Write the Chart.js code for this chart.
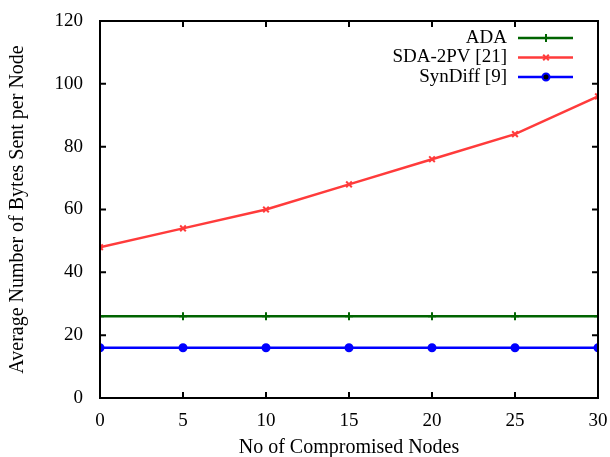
<!DOCTYPE html>
<html>
<head>
<meta charset="utf-8">
<script src="https://cdn.jsdelivr.net/npm/chart.js@4/dist/chart.umd.min.js"></script>
<style>
  html, body { margin: 0; padding: 0; background: #fff; }
  #wrap { width: 610px; height: 457px; }
</style>
</head>
<body>
<div id="wrap"><canvas id="chart" width="610" height="457"></canvas></div>
<script>
// Data
const nodes = [0, 5, 10, 15, 20, 25, 30];
const adaBytes = [26, 26, 26, 26, 26, 26, 26];
const sdaBytes = [48, 54, 60, 68, 76, 84, 96];
const synDiffBytes = [16, 16, 16, 16, 16, 16, 16];
const seriesNames = ["ADA", "SDA-2PV [21]", "SynDiff [9]"];
const seriesColors = ["#006400", "#ff3b3b", "#0000ff"];
const seriesMarkers = ["cross", "crossRot", "circle"];

function toPoints(ys) {
  return nodes.map((x, i) => ({ x: x, y: ys[i] }));
}

const font = "Liberation Serif";

// frame with inward ticks on all four sides + legend top right
const framePlugin = {
  id: "frame",
  afterDatasetsDraw(chart) {
    const ctx = chart.ctx;
    const a = chart.chartArea;
    const xs = chart.scales.x;
    const ys = chart.scales.y;
    ctx.save();
    ctx.strokeStyle = "#000";
    ctx.lineWidth = 2;
    ctx.strokeRect(a.left, a.top, a.right - a.left, a.bottom - a.top);
    const t = 6;
    xs.ticks.forEach((tk) => {
      const px = xs.getPixelForValue(tk.value);
      ctx.beginPath();
      ctx.moveTo(px, a.bottom);
      ctx.lineTo(px, a.bottom - t);
      ctx.moveTo(px, a.top);
      ctx.lineTo(px, a.top + t);
      ctx.stroke();
    });
    ys.ticks.forEach((tk) => {
      const py = ys.getPixelForValue(tk.value);
      ctx.beginPath();
      ctx.moveTo(a.left, py);
      ctx.lineTo(a.left + t, py);
      ctx.moveTo(a.right, py);
      ctx.lineTo(a.right - t, py);
      ctx.stroke();
    });

    // legend
    ctx.font = "19px '" + font + "'";
    ctx.textAlign = "right";
    ctx.textBaseline = "middle";
    seriesNames.forEach((name, i) => {
      const y = a.top + 17 + i * 19.5;
      ctx.fillStyle = "#000";
      ctx.fillText(name, a.right - 91, y);
      ctx.strokeStyle = seriesColors[i];
      ctx.lineWidth = 2.5;
      ctx.beginPath();
      ctx.moveTo(a.right - 80, y);
      ctx.lineTo(a.right - 25, y);
      ctx.stroke();
      const ds = chart.data.datasets[i];
      ctx.lineWidth = 2;
      Chart.helpers.drawPoint(ctx, {
        pointStyle: ds.pointStyle,
        radius: ds.pointRadius,
        borderWidth: 2
      }, a.right - 52, y);
    });
    ctx.restore();
  }
};

const datasets = [adaBytes, sdaBytes, synDiffBytes].map((ys, i) => ({
  label: seriesNames[i],
  data: toPoints(ys),
  borderColor: seriesColors[i],
  backgroundColor: seriesColors[i],
  borderWidth: 2.5,
  pointStyle: seriesMarkers[i],
  pointRadius: i === 2 ? 3.5 : 4,
  pointBorderWidth: 2,
  tension: 0
}));

new Chart(document.getElementById("chart"), {
  type: "line",
  data: { datasets: datasets },
  plugins: [framePlugin],
  options: {
    responsive: false,
    animation: false,
    layout: { padding: { top: 21, right: 0, left: 0, bottom: 0 } },
    plugins: {
      legend: { display: false },
      tooltip: { enabled: false }
    },
    scales: {
      x: {
        type: "linear",
        min: 0,
        max: 30,
        ticks: {
          stepSize: 5,
          color: "#000",
          padding: 4,
          font: { family: font, size: 19 }
        },
        grid: { display: false },
        border: { display: false },
        title: {
          display: true,
          text: "No of Compromised Nodes",
          color: "#000",
          font: { family: font, size: 20, lineHeight: 0.9 },
          padding: { top: 9, bottom: 0 }
        },
        afterFit(scale) {
          scale.height = 59;
          scale.paddingRight = 12;
        }
      },
      y: {
        min: 0,
        max: 120,
        ticks: {
          stepSize: 20,
          color: "#000",
          padding: 9,
          font: { family: font, size: 19 }
        },
        grid: { display: false },
        border: { display: false },
        title: {
          display: true,
          text: "Average Number of Bytes Sent per Node",
          color: "#000",
          font: { family: font, size: 20 },
          padding: { top: 6, bottom: 0 }
        },
        afterFit(scale) { scale.width = 100; }
      }
    }
  }
});
</script>
</body>
</html>
